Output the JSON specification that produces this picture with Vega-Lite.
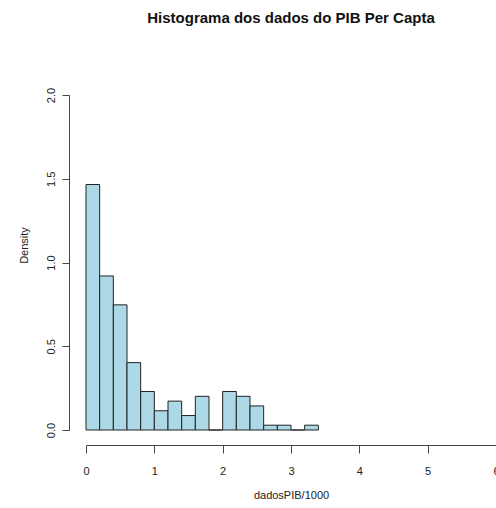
{
  "$schema": "https://vega.github.io/schema/vega-lite/v6.json",
  "width": 410,
  "height": 335,
  "autosize": "none",
  "padding": {"left": 86, "top": 95, "right": 0, "bottom": 78},
  "background": "white",
  "config": {
    "view": {"stroke": null},
    "font": "Liberation Sans"
  },
  "title": {
    "text": "Histograma dos dados do PIB Per Capta",
    "fontSize": 15,
    "fontWeight": "bold",
    "color": "#111111",
    "anchor": "middle",
    "frame": "group",
    "offset": 61
  },
  "data": {
    "values": [
      {"bin_start": 0.0, "bin_end": 0.2, "density": 1.4655},
      {"bin_start": 0.2, "bin_end": 0.4, "density": 0.9195},
      {"bin_start": 0.4, "bin_end": 0.6, "density": 0.7471},
      {"bin_start": 0.6, "bin_end": 0.8, "density": 0.4023},
      {"bin_start": 0.8, "bin_end": 1.0, "density": 0.2299},
      {"bin_start": 1.0, "bin_end": 1.2, "density": 0.1149},
      {"bin_start": 1.2, "bin_end": 1.4, "density": 0.1724},
      {"bin_start": 1.4, "bin_end": 1.6, "density": 0.0862},
      {"bin_start": 1.6, "bin_end": 1.8, "density": 0.2011},
      {"bin_start": 1.8, "bin_end": 2.0, "density": 0.0},
      {"bin_start": 2.0, "bin_end": 2.2, "density": 0.2299},
      {"bin_start": 2.2, "bin_end": 2.4, "density": 0.2011},
      {"bin_start": 2.4, "bin_end": 2.6, "density": 0.1437},
      {"bin_start": 2.6, "bin_end": 2.8, "density": 0.0287},
      {"bin_start": 2.8, "bin_end": 3.0, "density": 0.0287},
      {"bin_start": 3.0, "bin_end": 3.2, "density": 0.0},
      {"bin_start": 3.2, "bin_end": 3.4, "density": 0.0287}
    ]
  },
  "mark": {
    "type": "rect",
    "fill": "#ADD8E6",
    "stroke": "#222222",
    "strokeWidth": 1
  },
  "encoding": {
    "x": {
      "field": "bin_start",
      "type": "quantitative",
      "scale": {"domain": [0, 6], "nice": false, "zero": false},
      "axis": {
        "title": "dadosPIB/1000",
        "values": [0, 1, 2, 3, 4, 5, 6],
        "format": "d",
        "grid": false,
        "offset": 15,
        "tickSize": 8,
        "tickColor": "#444444",
        "domainColor": "#444444",
        "labelFontSize": 11,
        "labelColor": "#222222",
        "labelPadding": 12,
        "labelFlush": false,
        "labelOverlap": false,
        "titleFontSize": 11,
        "titleFontWeight": "normal",
        "titleColor": "#222222",
        "titlePadding": 13
      }
    },
    "x2": {"field": "bin_end"},
    "y": {
      "field": "density",
      "type": "quantitative",
      "scale": {"domain": [0, 2], "nice": false},
      "axis": {
        "title": "Density",
        "values": [0, 0.5, 1, 1.5, 2],
        "format": ".1f",
        "grid": false,
        "offset": 17,
        "tickSize": 7,
        "tickColor": "#444444",
        "domainColor": "#444444",
        "labelAngle": -90,
        "labelAlign": "center",
        "labelBaseline": "bottom",
        "labelFontSize": 11,
        "labelColor": "#222222",
        "labelPadding": 6,
        "labelFlush": false,
        "labelOverlap": false,
        "titleFontSize": 11,
        "titleFontWeight": "normal",
        "titleColor": "#222222",
        "titlePadding": 16,
        "titleY": 150
      }
    },
    "y2": {"datum": 0}
  }
}
